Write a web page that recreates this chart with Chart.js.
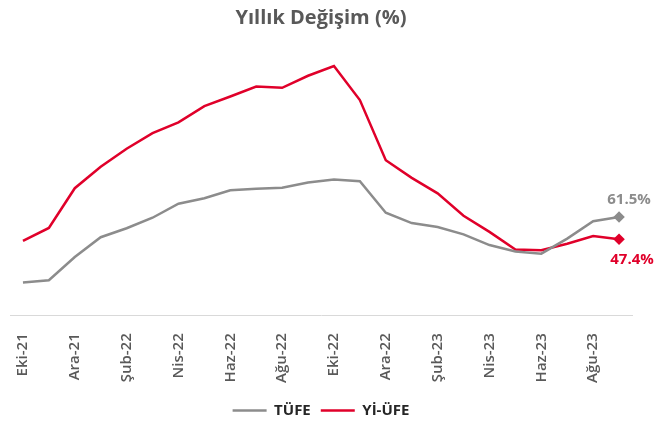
<!DOCTYPE html>
<html>
<head>
<meta charset="utf-8">
<script src="https://cdn.jsdelivr.net/npm/chart.js@4"></script>
<style>
  body { margin: 0; background: #fff; }
  #wrap { width: 661px; height: 423px; }
</style>
</head>
<body>
<div id="wrap"><canvas id="myChart"></canvas></div>
<script>
var months = ["Eki-21", "Kas-21", "Ara-21", "Oca-22", "Şub-22", "Mar-22", "Nis-22", "May-22",
    "Haz-22", "Tem-22", "Ağu-22", "Eyl-22", "Eki-22", "Kas-22", "Ara-22", "Oca-23",
    "Şub-23", "Mar-23", "Nis-23", "May-23", "Haz-23", "Tem-23", "Ağu-23", "Eyl-23"];
var tufe = [19.9, 21.3, 36.1, 48.7, 54.4, 61.1, 70.0, 73.5, 78.6, 79.6, 80.2, 83.5,
    85.5, 84.4, 64.3, 57.7, 55.2, 50.5, 43.7, 39.6, 38.2, 47.8, 58.9, 61.5];
var yiufe = [46.3, 54.6, 79.9, 93.5, 105.0, 115.0, 121.8, 132.2, 138.3, 144.6, 143.8, 151.5,
    157.7, 136.0, 97.7, 86.5, 76.6, 62.4, 52.1, 40.8, 40.4, 44.5, 49.4, 47.4];

var grayCol = "#8c8c8c";
var redCol = "#e0002a";
var last = months.length - 1;

// etiketler: son noktanin degeri
var endLabels = {
    id: "endLabels",
    afterDatasetsDraw: function (chart) {
        var c = chart.ctx;
        c.save();
        c.font = "bold 15px 'Open Sans'";
        c.textAlign = "center";
        c.textBaseline = "middle";
        var p0 = chart.getDatasetMeta(0).data[last];
        c.fillStyle = grayCol;
        c.fillText(tufe[last].toFixed(1) + "%", p0.x + 10, p0.y - 17);
        var p1 = chart.getDatasetMeta(1).data[last];
        c.fillStyle = redCol;
        c.fillText(yiufe[last].toFixed(1) + "%", p1.x + 13, p1.y + 20);
        c.restore();
    }
};

function lastOnly(ctx) {
    return ctx.dataIndex === last ? 4 : 0;
}

new Chart("myChart", {
    type: "line",
    data: {
        labels: months,
        datasets: [{
            label: "TÜFE",
            data: tufe,
            borderColor: grayCol,
            backgroundColor: grayCol,
            borderWidth: 2.5,
            pointStyle: "rectRot",
            pointRadius: lastOnly,
            pointHoverRadius: lastOnly,
            tension: 0,
            fill: false
        }, {
            label: "Yİ-ÜFE",
            data: yiufe,
            borderColor: redCol,
            backgroundColor: redCol,
            borderWidth: 2.5,
            pointStyle: "rectRot",
            pointRadius: lastOnly,
            pointHoverRadius: lastOnly,
            tension: 0,
            fill: false
        }]
    },
    options: {
        responsive: true,
        maintainAspectRatio: false,
        animation: false,
        layout: { padding: { left: 10, right: 29, top: 0, bottom: -5 } },
        plugins: {
            title: {
                display: true,
                text: "Yıllık Değişim (%)",
                color: "#595959",
                font: { family: "'Open Sans'", size: 20, weight: "bold" },
                padding: { top: 6, bottom: 1 }
            },
            legend: {
                position: "bottom",
                labels: {
                    usePointStyle: true,
                    pointStyle: "line",
                    pointStyleWidth: 34,
                    color: "#262626",
                    font: { family: "'Open Sans'", size: 15, weight: "bold" },
                    padding: 10
                }
            },
            tooltip: { enabled: false }
        },
        scales: {
            x: {
                offset: true,
                grid: { display: false },
                border: { display: true, color: "#d9d9d9", width: 1 },
                ticks: {
                    autoSkip: false,
                    minRotation: 90,
                    maxRotation: 90,
                    padding: 10,
                    color: "#595959",
                    font: { family: "'Open Sans'", size: 15, weight: "600" },
                    callback: function (v, i) {
                        return i % 2 === 0 ? months[i] : "";
                    }
                }
            },
            y: {
                display: false,
                min: -1,
                max: 180
            }
        }
    },
    plugins: [endLabels]
});
</script>
</body>
</html>
